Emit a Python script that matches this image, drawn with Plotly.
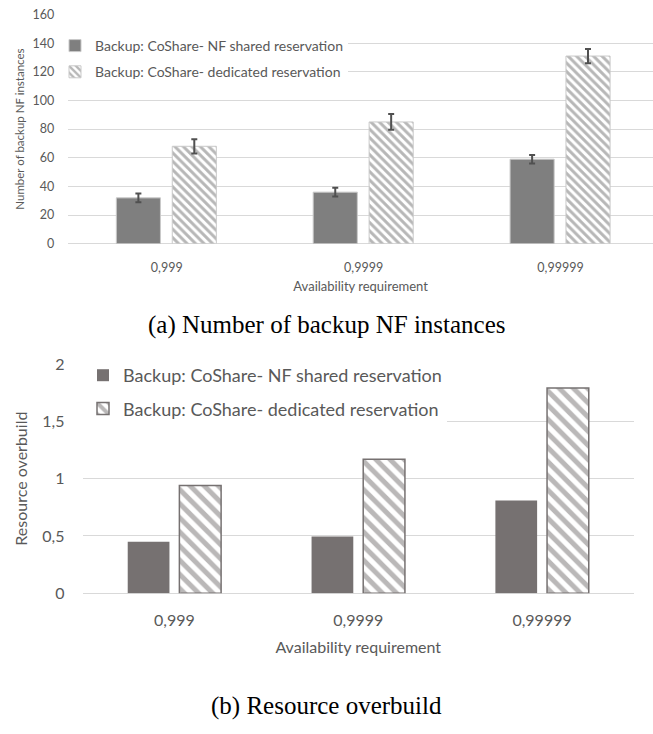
import plotly.graph_objects as go

categories = ["0,999", "0,9999", "0,99999"]

# (a) Number of backup NF instances
shared_count = [32, 36, 59]
shared_count_err = [3, 3, 3]
dedicated_count = [68, 85, 131]
dedicated_count_err = [5, 5.5, 5]

# (b) Resource overbuild
shared_overbuild = [0.45, 0.495, 0.81]
dedicated_overbuild = [0.94, 1.17, 1.79]

top_yticks = [0, 20, 40, 60, 80, 100, 120, 140, 160]
bottom_yticks = [0, 0.5, 1, 1.5, 2]
bottom_yticklabels = ["0", "0,5", "1", "1,5", "2"]

name_shared = "Backup: CoShare- NF shared reservation"
name_dedicated = "Backup: CoShare- dedicated reservation"

W, H = 653, 734
FONT = "Lato"
GRAY_TXT = "#595959"
GRID = "#d9d9d9"

fig = go.Figure()

# ---- top chart
fig.add_trace(go.Bar(
    x=categories, y=shared_count, name=name_shared, xaxis="x", yaxis="y",
    width=0.224, offset=-0.256,
    marker=dict(color="#7f7f7f", line=dict(color="#c9c9c9", width=1)),
    error_y=dict(type="data", array=shared_count_err, color="#505050", thickness=2, width=3),
    legend="legend", legendgroup="a1",
))
fig.add_trace(go.Bar(
    x=categories, y=dedicated_count, name=name_dedicated, xaxis="x", yaxis="y",
    width=0.224, offset=0.028,
    marker=dict(color="white", line=dict(color="#c9c9c9", width=1),
                pattern=dict(shape="\\", fgcolor="#707070", bgcolor="white", size=6, solidity=0.5)),
    error_y=dict(type="data", array=dedicated_count_err, color="#505050", thickness=2, width=3),
    legend="legend", legendgroup="a2",
))

# ---- bottom chart
fig.add_trace(go.Bar(
    x=categories, y=shared_overbuild, name=name_shared, xaxis="x2", yaxis="y2",
    width=0.227, offset=-0.254,
    marker=dict(color="#767171", line=dict(color="#767171", width=0)),
    legend="legend2", legendgroup="b1",
))
fig.add_trace(go.Bar(
    x=categories, y=dedicated_overbuild, name=name_dedicated, xaxis="x2", yaxis="y2",
    width=0.227, offset=0.027,
    marker=dict(color="white", line=dict(color="#767171", width=1.5),
                pattern=dict(shape="\\", fgcolor="#767171", bgcolor="white", size=10, solidity=0.5)),
    legend="legend2", legendgroup="b2",
))

def px_x(p):
    return p / W

def px_y(p):
    return 1 - p / H

fig.update_layout(
    width=W, height=H,
    margin=dict(l=0, r=0, t=0, b=0, pad=0, autoexpand=False),
    paper_bgcolor="white", plot_bgcolor="white",
    barmode="overlay",
    showlegend=True,
    font=dict(family=FONT, color=GRAY_TXT),
    xaxis=dict(
        domain=[px_x(68.3), 1.0], anchor="y",
        type="category", range=[-0.5, 2.47],
        showgrid=False, showline=False, zeroline=False, ticks="", automargin=False,
        tickfont=dict(size=12.5, color=GRAY_TXT), ticklabelstandoff=15,
        title=dict(text="Availability requirement", font=dict(size=13, color=GRAY_TXT), standoff=7),
    ),
    yaxis=dict(
        domain=[px_y(243.7), px_y(14.5)], anchor="x",
        range=[0, 160], tickvals=top_yticks,
        showgrid=True, gridcolor=GRID, gridwidth=1,
        zeroline=True, zerolinecolor=GRID, zerolinewidth=1,
        showline=False, ticks="", automargin=False,
        tickfont=dict(size=12.5, color=GRAY_TXT), ticklabelstandoff=13,
        title=dict(text="Number of backup NF instances", font=dict(size=11.5, color=GRAY_TXT), standoff=5),
    ),
    xaxis2=dict(
        domain=[px_x(82.5), px_x(634)], anchor="y2",
        type="category", range=[-0.5, 2.5],
        showgrid=False, showline=False, zeroline=False, ticks="", automargin=False,
        tickfont=dict(size=16, color=GRAY_TXT), ticklabelstandoff=16,
        title=dict(text="Availability requirement", font=dict(size=16, color=GRAY_TXT), standoff=13),
    ),
    yaxis2=dict(
        domain=[px_y(593.3), px_y(364)], anchor="x2",
        range=[0, 2], tickvals=bottom_yticks, ticktext=bottom_yticklabels,
        showgrid=True, gridcolor=GRID, gridwidth=1,
        zeroline=True, zerolinecolor=GRID, zerolinewidth=1,
        showline=False, ticks="", automargin=False,
        tickfont=dict(size=16, color=GRAY_TXT), ticklabelstandoff=17,
        title=dict(text="Resource overbuild", font=dict(size=16, color=GRAY_TXT), standoff=10),
    ),
    legend=dict(
        x=px_x(55), y=px_y(30), xanchor="left", yanchor="top",
        bgcolor="white", borderwidth=0,
        font=dict(family=FONT, size=14, color=GRAY_TXT),
        traceorder="grouped", tracegroupgap=5,
    ),
    legend2=dict(
        x=px_x(83), y=px_y(357), xanchor="left", yanchor="top",
        bgcolor="white", borderwidth=0,
        font=dict(family=FONT, size=18, color=GRAY_TXT),
        traceorder="grouped", tracegroupgap=7,
    ),
    annotations=[
        dict(text="(a) Number of backup NF instances", x=0.5, y=px_y(325), xref="paper", yref="paper",
             xanchor="center", yanchor="middle",
             showarrow=False, font=dict(family="Liberation Serif", size=25, color="black")),
        dict(text="(b) Resource overbuild", x=0.5, y=px_y(706), xref="paper", yref="paper",
             xanchor="center", yanchor="middle",
             showarrow=False, font=dict(family="Liberation Serif", size=25, color="black")),
    ],
)

fig.write_html("out.html", config={"displayModeBar": False},
               post_script="document.body.style.margin='0';")
